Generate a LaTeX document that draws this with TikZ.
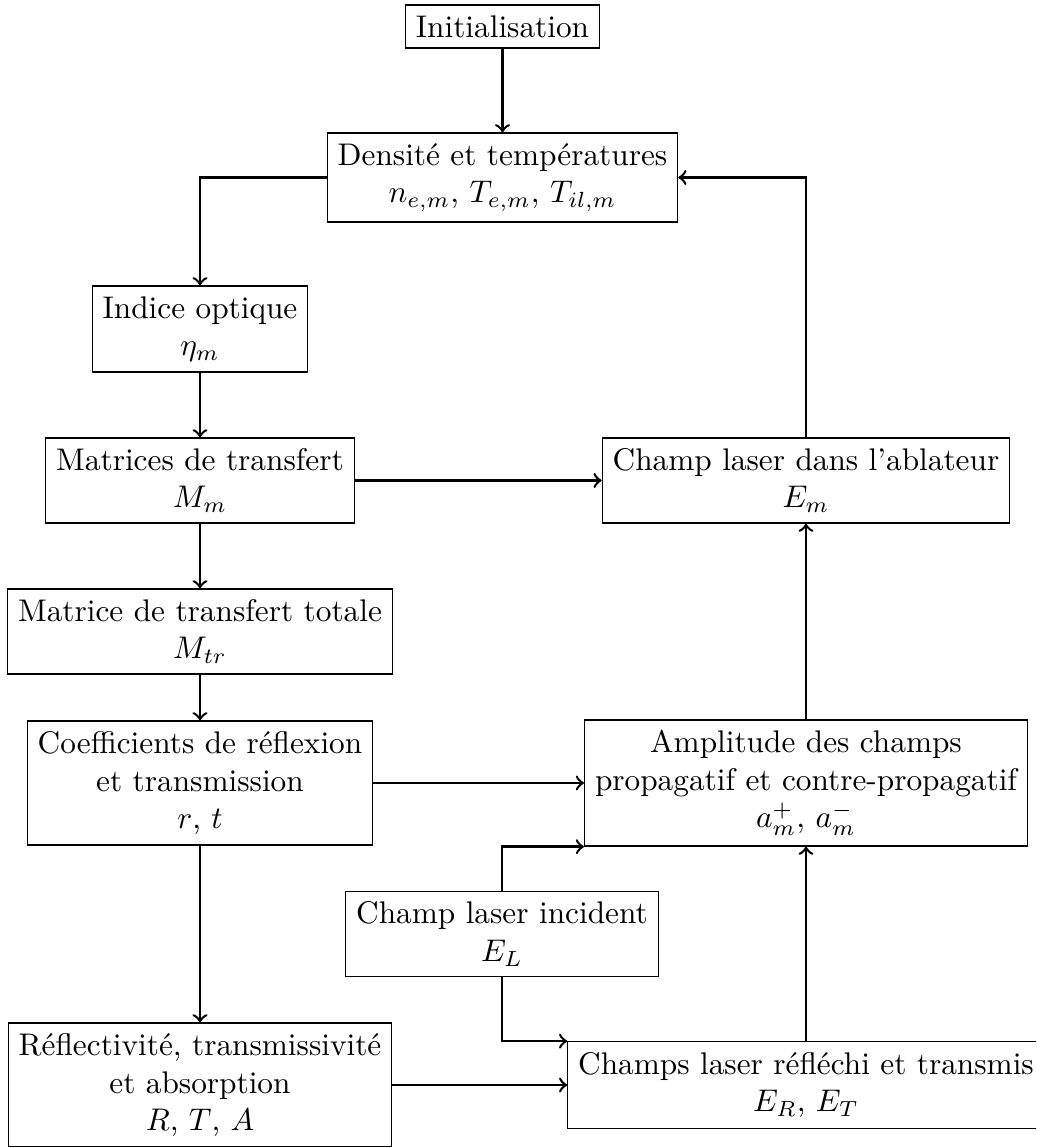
\documentclass[tikz,border=0pt]{standalone}
\begin{document}
\begin{tikzpicture}[x=0.3195pt, y=-0.3195pt,
  box/.style={draw, align=center},
  conn/.style={thick, ->}]
\useasboundingbox (0,0) rectangle (1036,1147);
\clip (0,0) rectangle (1036,1147);
\node[box] (init) at (502.5,26.5) {Initialisation};
\node[box] (dens) at (502.5,177.5) {Densité et températures\\$n_{e,m}$, $T_{e,m}$, $T_{il,m}$};
\node[box] (ind) at (200,329) {Indice optique\\$\eta_m$};
\node[box] (mat) at (200,480.5) {Matrices de transfert\\$M_m$};
\node[box] (abl) at (806,480.5) {Champ laser dans l'ablateur\\$E_m$};
\node[box] (tot) at (200,631.5) {Matrice de transfert totale\\$M_{tr}$};
\node[box] (coef) at (200,783) {Coefficients de réflexion\\et transmission\\$r$, $t$};
\node[box] (amp) at (806,783) {Amplitude des champs\\propagatif et contre-propagatif\\$a_m^+$, $a_m^-$};
\node[box] (inc) at (502,934) {Champ laser incident\\$E_L$};
\node[box] (refl) at (200,1085) {Réflectivité, transmissivité\\et absorption\\$R$, $T$, $A$};
\node[box] (rfl) at (806,1085) {Champs laser réfléchi et transmis\\$E_R$, $E_T$};
\draw[conn] (init) -- (dens);
\draw[conn] (dens.west) -| (ind.north);
\draw[conn] (ind) -- (mat);
\draw[conn] (mat) -- (abl);
\draw[conn] (mat) -- (tot);
\draw[conn] (tot) -- (coef);
\draw[conn] (coef) -- (amp);
\draw[conn] (coef) -- (refl);
\draw[conn] (refl) -- (rfl);
\draw[conn] (inc.north) |- (amp.south west);
\draw[conn] (inc.south) |- (rfl.north west);
\draw[conn] (rfl) -- (amp);
\draw[conn] (amp) -- (abl);
\draw[conn] (abl.north) |- (dens.east);
\end{tikzpicture}
\end{document}
